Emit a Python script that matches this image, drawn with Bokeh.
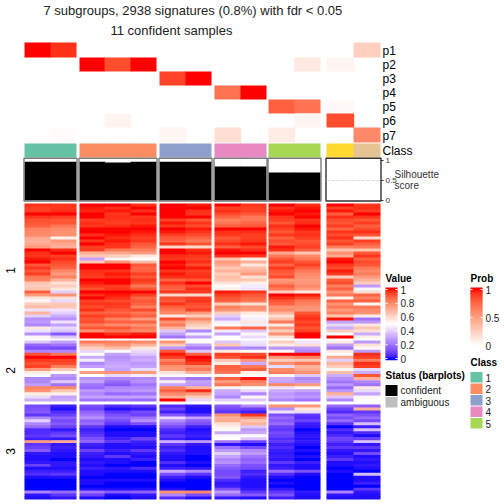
from bokeh.plotting import figure
from bokeh.models import Range1d, ColumnDataSource
from bokeh.core.properties import value
from bokeh.embed import file_html
from bokeh.resources import INLINE

title_lines = ["7 subgroups, 2938 signatures (0.8%) with fdr < 0.05", "11 confident samples"]
prob_rows = ["p1", "p2", "p3", "p4", "p5", "p6", "p7"]
class_colors = ["#66C2A5", "#66C2A5", "#FC8D62", "#FC8D62", "#FC8D62", "#8DA0CB", "#8DA0CB",
                "#E78AC3", "#E78AC3", "#A6D854", "#A6D854", "#FFD92F", "#E5C494"]
legend_classes = ["1", "2", "3", "4", "5"]
legend_class_colors = ["#66C2A5", "#FC8D62", "#8DA0CB", "#E78AC3", "#A6D854"]
status_labels = ["confident", "ambiguous"]
status_colors = ["#000000", "#BEBEBE"]
value_ticks = [1, 0.8, 0.6, 0.4, 0.2, 0]
prob_ticks = [1, 0.5, 0]
sil_ticks = [1, 0.5, 0]

# membership probabilities, one list per sample column
p1 = [1.0, .93, 0, 0, 0, 0, 0, 0, 0, 0, 0, 0, .25]
p2 = [0, 0, 1.0, .85, 1.0, 0, 0, 0, 0, 0, .12, .05, 0]
p3 = [0, 0, 0, 0, 0, .88, 1.0, 0, 0, 0, 0, 0, 0]
p4 = [0, 0, 0, 0, 0, 0, 0, .7, 1.0, 0, 0, 0, 0]
p5 = [0, 0, 0, 0, 0, 0, 0, 0, 0, .78, .7, .03, 0]
p6 = [0, 0, 0, .06, 0, 0, 0, 0, 0, 0, .05, .85, 0]
p7 = [0, .02, 0, 0, 0, .05, 0, .17, 0, .1, 0, 0, .6]
silhouette = [.97, .97, .97, .95, .97, .97, .97, .85, .85, .70, .70, 0, 0]

# signature values in percent: slice 1 (45 rows), slice 2 (20 rows), slice 3 (32 rows)
s1a = [97,95,95,100,96,92,91,89,82,80,80,72,70,72,76,100,97,96,99,100,91,96,91,95,84,82,65,63,65,89,76,56,52,63,67,44,69,40,26,28,24,56,44,26,52,
       38,17,12,24,92,100,96,92,95,76,55,50,24,24,29,81,78,55,43,32,
       11,12,14,7,24,40,24,18,5,5,7,3,76,7,9,14,2,1,1,2,9,1,3,5,1,0,0,0,0,24,2,1]
s1b = [96,96,97,100,95,91,91,84,80,78,78,54,76,72,70,97,100,95,97,93,91,88,80,76,82,70,58,63,56,40,78,58,42,65,65,44,40,32,26,44,30,42,38,14,38,
       30,20,11,24,84,100,95,93,82,65,50,28,24,38,20,80,65,54,30,32,
       3,1,5,9,16,11,14,9,2,7,11,2,72,2,3,2,1,1,0,2,2,1,3,7,1,0,0,0,0,18,7,2]
s2a = [100,99,98,100,100,95,97,96,100,100,97,100,96,100,95,95,70,65,30,65,100,100,97,96,95,100,99,96,92,100,97,100,95,96,93,97,89,95,91,93,84,91,78,100,100,
       84,72,63,42,50,32,46,24,29,50,76,50,26,30,20,18,28,24,30,20,
       12,9,16,20,26,16,18,7,3,5,7,12,16,3,2,9,3,2,1,2,1,3,1,1,0,1,1,0,1,20,9,1]
s2b = [100,97,99,96,97,96,95,97,100,100,99,97,99,97,96,84,72,63,52,78,100,100,96,99,97,100,100,95,96,100,99,97,93,96,95,91,88,93,82,89,80,91,84,97,100,
       82,78,67,50,30,26,28,30,32,30,78,42,24,18,14,24,26,18,30,20,
       5,1,7,12,16,11,7,1,0,1,1,3,7,1,1,3,1,7,1,1,0,2,1,0,0,1,0,0,1,14,1,0]
s2c = [97,100,97,100,96,97,96,99,100,99,97,95,96,91,88,82,76,56,50,67,91,88,89,95,91,96,93,84,91,100,95,88,91,89,82,93,84,89,76,88,78,84,80,99,100,
       80,70,56,42,38,30,32,28,30,42,76,46,24,26,20,24,28,20,30,18,
       7,2,11,9,20,26,12,1,0,1,1,9,3,2,1,7,2,1,3,0,0,5,1,0,0,1,0,0,1,16,2,1]
s3a = [100,100,100,100,100,95,99,96,100,99,95,91,88,96,60,100,100,97,96,100,99,100,96,99,97,88,97,91,88,96,60,93,91,96,89,84,80,56,93,78,84,70,38,30,20,
       78,63,28,91,99,95,82,88,78,76,58,52,28,46,30,82,88,80,70,100,
       5,9,3,14,42,24,18,11,5,3,7,3,32,7,3,5,2,1,1,5,1,3,32,12,3,1,0,0,1,78,24,5]
s3b = [99,100,97,96,100,91,96,93,99,96,93,88,84,91,60,97,99,96,95,97,93,99,95,96,97,91,100,93,97,95,60,95,96,93,91,95,76,63,80,70,63,58,24,46,30,
       50,30,20,38,89,100,99,95,80,84,70,50,20,30,28,70,97,76,63,42,
       2,1,1,7,30,16,12,3,1,2,3,1,28,2,1,1,1,0,0,1,0,2,24,7,1,0,0,0,0,80,12,1]
s4a = [100,95,97,93,88,82,84,89,100,97,96,91,93,97,89,99,100,97,65,76,72,65,70,63,67,65,58,50,54,99,95,91,89,63,82,78,63,40,32,46,50,84,46,30,50,
       38,65,24,55,95,92,65,55,89,88,84,52,89,76,84,52,32,30,24,40,
       14,11,7,78,70,72,58,54,50,32,52,50,20,2,20,28,40,30,24,26,18,14,11,11,14,5,2,3,12,28,18,2]
s4b = [96,95,95,91,84,84,88,91,100,97,95,95,96,99,93,97,100,96,54,70,56,67,70,76,58,65,54,46,44,96,91,88,84,58,78,76,56,52,46,56,46,88,38,52,42,
       44,42,24,50,93,97,78,32,84,89,54,50,99,82,78,50,42,24,52,38,
       24,9,3,96,76,65,70,38,28,32,50,38,9,1,11,24,28,20,16,18,12,11,3,5,2,1,1,1,2,7,14,1]
s5a = [100,97,99,100,96,95,91,97,95,91,96,89,93,91,99,97,72,84,91,95,88,96,91,89,93,76,80,89,84,63,100,97,91,88,78,80,70,58,67,84,56,76,63,78,58,
       63,55,28,52,100,78,63,78,42,80,82,52,32,30,80,44,32,28,30,24,
       78,26,44,12,18,14,18,9,7,11,9,5,7,3,5,3,2,3,2,7,2,3,18,5,1,0,1,0,2,7,12,3]
s5b = [97,99,100,99,100,96,97,100,99,96,97,95,91,93,95,89,65,80,84,91,95,89,84,80,78,76,76,80,76,56,99,93,84,82,78,76,91,95,97,93,96,91,95,100,100,
       44,58,28,24,100,82,65,84,70,72,78,38,24,28,76,52,30,24,28,20,
       76,56,42,7,5,9,3,2,0,1,2,1,2,1,0,1,0,1,0,3,1,1,12,1,0,0,0,0,0,2,1,1]
s6a = [100,95,99,89,97,93,91,95,88,96,93,97,91,95,82,65,78,72,99,100,96,93,99,95,63,89,93,82,89,78,84,54,89,78,84,76,82,65,99,30,42,32,63,50,100,
       55,29,20,56,50,72,40,70,63,52,67,32,26,20,28,18,28,70,38,24,
       18,9,5,16,11,18,7,0,5,2,5,9,7,3,7,2,1,3,7,1,1,0,1,0,0,0,0,0,0,24,2,1]
s6b = [96,97,95,100,96,91,95,89,93,97,91,60,95,89,84,65,91,96,89,93,91,84,80,82,76,70,63,28,52,58,88,82,89,52,84,80,78,54,20,28,56,65,58,32,54,
       28,58,52,28,97,95,82,97,95,42,32,91,70,24,20,56,42,30,52,50,
       16,70,7,12,18,11,36,3,36,5,1,9,36,2,7,2,11,1,2,1,2,1,0,36,1,1,3,0,7,2,1,1]

heat_columns = [s1a, s1b, s2a, s2b, s2c, s3a, s3b, s4a, s4b, s5a, s5b, s6a, s6b]
prob_columns = [p1, p2, p3, p4, p5, p6, p7]


def to_lab(c):
    def f(u):
        u /= 255
        return u / 12.92 if u <= 0.04045 else ((u + 0.055) / 1.055) ** 2.4
    r, g, b = f(c[0]), f(c[1]), f(c[2])
    x = (0.4124 * r + 0.3576 * g + 0.1805 * b) / 0.95047
    y = 0.2126 * r + 0.7152 * g + 0.0722 * b
    z = (0.0193 * r + 0.1192 * g + 0.9505 * b) / 1.08883
    def h(t):
        return t ** (1 / 3) if t > 0.008856 else 7.787 * t + 16 / 116
    return 116 * h(y) - 16, 500 * (h(x) - h(y)), 200 * (h(y) - h(z))


def to_hex(lab):
    fy = (lab[0] + 16) / 116
    fx, fz = lab[1] / 500 + fy, fy - lab[2] / 200
    def g(t):
        return t ** 3 if t ** 3 > 0.008856 else (t - 16 / 116) / 7.787
    x, y, z = g(fx) * 0.95047, g(fy), g(fz) * 1.08883
    rgb = (3.2406 * x - 1.5372 * y - 0.4986 * z,
           -0.9689 * x + 1.8758 * y + 0.0415 * z,
           0.0557 * x - 0.2040 * y + 1.0570 * z)
    def e(u):
        u = max(0, min(1, u))
        u = 12.92 * u if u <= 0.0031308 else 1.055 * u ** (1 / 2.4) - 0.055
        return round(u * 255)
    return "#%02x%02x%02x" % tuple(e(u) for u in rgb)


BLUE, WHITE, RED = to_lab((0, 0, 255)), to_lab((255, 255, 255)), to_lab((255, 0, 0))


def mix(a, b, t):
    return to_hex(tuple(a[i] + (b[i] - a[i]) * t for i in range(3)))


def prob_color(v):
    return mix(WHITE, RED, v)


def value_color(v):
    return mix(BLUE, WHITE, v / 0.5) if v < 0.5 else mix(WHITE, RED, (v - 0.5) / 0.5)


col_edges = [(24, 50), (50, 76), (79, 104), (104, 130), (130, 156), (159, 185), (185, 211),
             (214, 240), (240, 266), (268, 294), (294, 320), (326, 353), (353, 380)]
group_edges = [(24, 76), (79, 156), (159, 211), (214, 266), (268, 320), (326, 380)]
prob_y = [42, 57, 71, 85, 99, 113, 127, 142]
slices = [(203, 338, 45), (340, 401, 20), (404, 499, 32)]
FONT = value("Liberation Sans")
OVER = 0.7  # painted under the next neighbour, so that no seam shows between touching cells

# right edges as drawn: a column that touches the next one runs a little under it
col_right = [e[1] + OVER if k + 1 < len(col_edges) and col_edges[k + 1][0] == e[1] else e[1]
             for k, e in enumerate(col_edges)]

p = figure(width=500, height=500, x_range=Range1d(0, 500), y_range=Range1d(500, 0),
           output_backend="svg", toolbar_location=None, min_border=0,
           x_axis_location=None, y_axis_location=None, outline_line_color=None)
p.grid.visible = False


def cells(l, r, t, b, c):
    src = ColumnDataSource(dict(l=l, r=r, t=t, b=b, c=c))
    p.quad(left="l", right="r", top="t", bottom="b", fill_color="c", line_color=None, source=src)


def labels(x, y, t, size, style="normal", color="#222222", angle=0, align="left"):
    p.text(x=x, y=y, text=t, text_font=FONT, text_font_size=value(size), text_font_style=style,
           text_color=color, text_align=align, text_baseline="middle", angle=angle)


# probability heatmap
l, r, t, b, c = [], [], [], [], []
for i, row in enumerate(prob_columns):
    for j, v in enumerate(row):
        if v > 0:
            l.append(col_edges[j][0]); r.append(col_right[j])
            t.append(prob_y[i]); b.append(prob_y[i + 1]); c.append(prob_color(v))
cells(l, r, t, b, c)
labels([382] * 7, [(prob_y[i] + prob_y[i + 1]) / 2 + 0.5 for i in range(7)], prob_rows, "12px", color="#000000")

# class strip
cells([e[0] for e in col_edges], col_right, [143] * 13, [157] * 13, class_colors)
labels([382], [150], ["Class"], "12px", color="#000000")

# silhouette bars
sil_y = lambda v: 200 - 40 * v
cells([e[0] for e in col_edges], col_right, [sil_y(v) for v in silhouette], [200] * 13, ["#000000"] * 13)
for k, (a, e) in enumerate(group_edges):
    p.quad(left=[a - 0.5], right=[e + 0.5], top=[157.8], bottom=[200.5], fill_color=None,
           line_color="#333333" if k == 5 else "#7a7a7a", line_width=1.4)
p.line(x=[326, 380], y=[sil_y(0.5)] * 2, line_color="#d8d8d8", line_dash="3 2", line_width=1)
p.segment(x0=[380] * 3, x1=[383] * 3, y0=[sil_y(v) for v in sil_ticks], y1=[sil_y(v) for v in sil_ticks],
          line_color="#333333", line_width=1)
labels([385] * 3, [sil_y(v) for v in sil_ticks], [str(v) for v in sil_ticks], "8px", color="#333333")
labels([394, 394], [174, 184.5], ["Silhouette", "score"], "10px", color="#333333")

# main heatmap
l, r, t, b, c = [], [], [], [], []
for j, col in enumerate(heat_columns):
    start = 0
    for top, bottom, n in slices:
        h = (bottom - top) / n
        for i in range(n):
            l.append(col_edges[j][0]); r.append(col_right[j])
            t.append(top + i * h)
            b.append(top + (i + 1) * h + (OVER if i + 1 < n else 0))
            c.append(value_color(col[start + i] / 100))
        start += n
cells(l, r, t, b, c)
labels([10, 10, 10], [270, 370, 451], ["1", "2", "3"], "12px", color="#000000", angle=1.5708, align="center")

# titles
labels([43], [10], title_lines[:1], "13px")
labels([110], [30], title_lines[1:], "13px")

# Value legend
vb = [287 + (359 - 287) * i / 60 for i in range(61)]
vy = lambda v: 358 - 69 * v
cells([385] * 60, [397] * 60, vb[:-1], [y + OVER for y in vb[1:]],
      [value_color(min(1, max(0, (358 - (vb[i] + 0.6)) / 69))) for i in range(60)])
p.segment(x0=[385] * 6 + [395] * 6, x1=[387] * 6 + [397] * 6, y0=[vy(v) for v in value_ticks] * 2,
          y1=[vy(v) for v in value_ticks] * 2, line_color="#ffffff", line_width=1)
labels([385], [278], ["Value"], "10px", "bold", "#000000")
labels([400] * 6, [vy(v) for v in value_ticks], [str(v) for v in value_ticks], "10px", color="#222222")

# Status legend
labels([385], [375], ["Status (barplots)"], "10px", "bold", "#000000")
cells([385, 385], [397, 397], [384.5, 396.5], [395.5, 407], status_colors)
labels([400, 400], [390, 402], status_labels, "10px", color="#222222")

# Prob legend
pb = [287 + (346 - 287) * i / 50 for i in range(51)]
py = lambda v: 345 - 56 * v
cells([470] * 50, [482] * 50, pb[:-1], [y + OVER for y in pb[1:]],
      [prob_color(min(1, max(0, (345 - (pb[i] + 0.6)) / 56))) for i in range(50)])
p.segment(x0=[470] * 3 + [480] * 3, x1=[472] * 3 + [482] * 3, y0=[py(v) for v in prob_ticks] * 2,
          y1=[py(v) for v in prob_ticks] * 2, line_color="#ffffff", line_width=1)
labels([470], [278], ["Prob"], "10px", "bold", "#000000")
labels([485] * 3, [py(v) for v in prob_ticks], [str(v) for v in prob_ticks], "10px", color="#222222")

# Class legend
labels([470], [362], ["Class"], "10px", "bold", "#000000")
box = [371 + 11.5 * i for i in range(6)]
cells([470] * 5, [482] * 5, [y + 0.5 for y in box[:-1]], [y - 0.5 for y in box[1:]], legend_class_colors)
labels([485] * 5, [y + 6 for y in box[:-1]], legend_classes, "10px", color="#222222")

open("out.html", "w").write(file_html(p, INLINE))
